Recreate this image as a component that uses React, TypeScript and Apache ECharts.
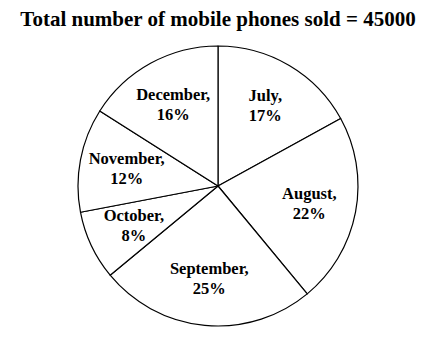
import React, { useEffect, useRef } from "react";
import * as echarts from "echarts";

const months = ["July", "August", "September", "October", "November", "December"];
const shares = [17, 22, 25, 8, 12, 16];
const titleText = "Total number of mobile phones sold = 45000";

const FONT = "'Liberation Serif', 'Times New Roman', serif";

export default function App() {
  const ref = useRef<HTMLDivElement>(null);
  useEffect(() => {
    if (!ref.current) return;
    const chart = echarts.init(ref.current, undefined, { renderer: "svg" });
    const data = months.map((m, i) => ({ name: m, value: shares[i] }));
    chart.setOption({
      animation: false,
      backgroundColor: "#ffffff",
      title: {
        text: titleText,
        left: "center",
        top: 3,
        textStyle: { fontFamily: FONT, fontWeight: "bold", fontSize: 21, color: "#000" },
      },
      series: [
        {
          type: "pie",
          center: [218, 186],
          radius: [0, 140],
          startAngle: 90,
          clockwise: true,
          silent: true,
          data,
          itemStyle: { color: "#ffffff", borderColor: "#000000", borderWidth: 1.2 },
          label: { show: false },
          labelLine: { show: false },
        },
        {
          type: "pie",
          center: [218, 186],
          radius: [40, 140],
          startAngle: 90,
          clockwise: true,
          silent: true,
          data,
          itemStyle: { color: "rgba(0,0,0,0)", borderWidth: 0 },
          label: {
            show: true,
            position: "inside",
            formatter: "{b},\n{c}%",
            fontFamily: FONT,
            fontWeight: "bold",
            fontSize: 16.5,
            lineHeight: 20,
            color: "#000",
            align: "center",
          },
          labelLine: { show: false },
        },
      ],
    });
    return () => chart.dispose();
  }, []);
  return (
    <div
      ref={ref}
      style={{ position: "fixed", left: 0, top: 0, width: 436, height: 339 }}
    />
  );
}
